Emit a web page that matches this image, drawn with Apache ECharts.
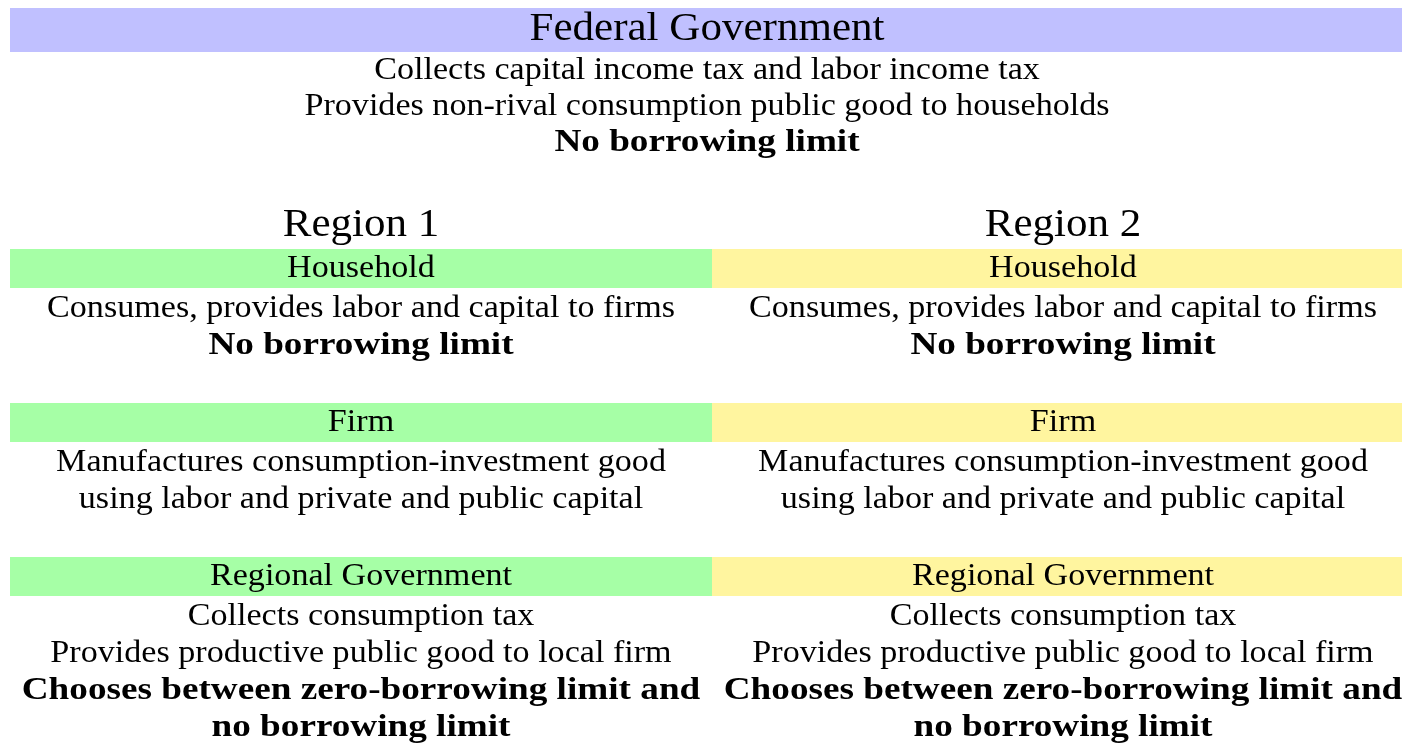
<!DOCTYPE html>
<html lang="en">
<head>
    <meta charset="UTF-8">
    <title>Federal and regional structure</title>
    <script src="https://cdn.jsdelivr.net/npm/echarts@6/dist/echarts.min.js"></script>
    <style>
        html, body { margin: 0; padding: 0; background: #fff; }
    </style>
</head>
<body>
    <div id="main" style="width: 1402px;height:744px;"></div>

<script>
    // text of the diagram
    var federalTitle = "Federal Government";
    var federalLines = [
        "Collects capital income tax and labor income tax",
        "Provides non-rival consumption public good to households",
        "No borrowing limit"
    ];
    var federalBold = [false, false, true];

    var regionNames = ["Region 1", "Region 2"];
    var regionColors = ["#a6ffa6", "#fff59f"];

    var blockTitles = ["Household", "Firm", "Regional Government"];
    var blockLines = [
        ["Consumes, provides labor and capital to firms", "No borrowing limit"],
        ["Manufactures consumption-investment good", "using labor and private and public capital"],
        ["Collects consumption tax", "Provides productive public good to local firm",
         "Chooses between zero-borrowing limit and", "no borrowing limit"]
    ];
    var blockBold = [
        [false, true],
        [false, false],
        [false, false, true, true]
    ];

    var FONT = '"Liberation Serif", "DejaVu Serif", serif';
    var bodySize = 31;
    var bigSize = 41;
    var lineGap = 37;

    // Liberation Serif is narrower than the original face, so stretch a bit
    function txt(str, x, y, size, bold) {
        var sx = size === bigSize ? 1.05 : (bold ? 1.2 : 1.1);
        return {
            type: 'text',
            x: x, y: y,
            scaleX: sx,
            style: {
                text: str,
                font: (bold ? 'bold ' : '') + size + 'px ' + FONT,
                fill: '#000',
                align: 'center', verticalAlign: 'middle',
                textAlign: 'center', textVerticalAlign: 'middle'
            }
        };
    }

    var g = [];
    // federal band
    g.push({ type: 'rect', shape: { x: 10, y: 8, width: 1404, height: 44 }, style: { fill: '#c0c0ff' } });
    g.push(txt(federalTitle, 707, 29, bigSize, false));
    for (var i = 0; i < federalLines.length; i++) {
        g.push(txt(federalLines[i], 707, 71 + i * 36, bodySize, federalBold[i]));
    }

    var colX = [10, 712];
    var colW = 702;
    var bandTop = [249, 403, 557];
    for (var c = 0; c < regionNames.length; c++) {
        var cx = colX[c] + colW / 2;
        g.push(txt(regionNames[c], cx, 225, bigSize, false));
        for (var b = 0; b < blockTitles.length; b++) {
            g.push({ type: 'rect', shape: { x: colX[c], y: bandTop[b], width: colW, height: 39 },
                     style: { fill: regionColors[c] } });
            g.push(txt(blockTitles[b], cx, bandTop[b] + 20, bodySize, false));
            for (var k = 0; k < blockLines[b].length; k++) {
                g.push(txt(blockLines[b][k], cx, bandTop[b] + 60 + k * lineGap, bodySize, blockBold[b][k]));
            }
        }
    }

    var myChart = echarts.init(document.getElementById('main'));
    myChart.setOption({
        backgroundColor: '#fff',
        animation: false,
        graphic: { elements: g }
    });
</script>
</body>
</html>
